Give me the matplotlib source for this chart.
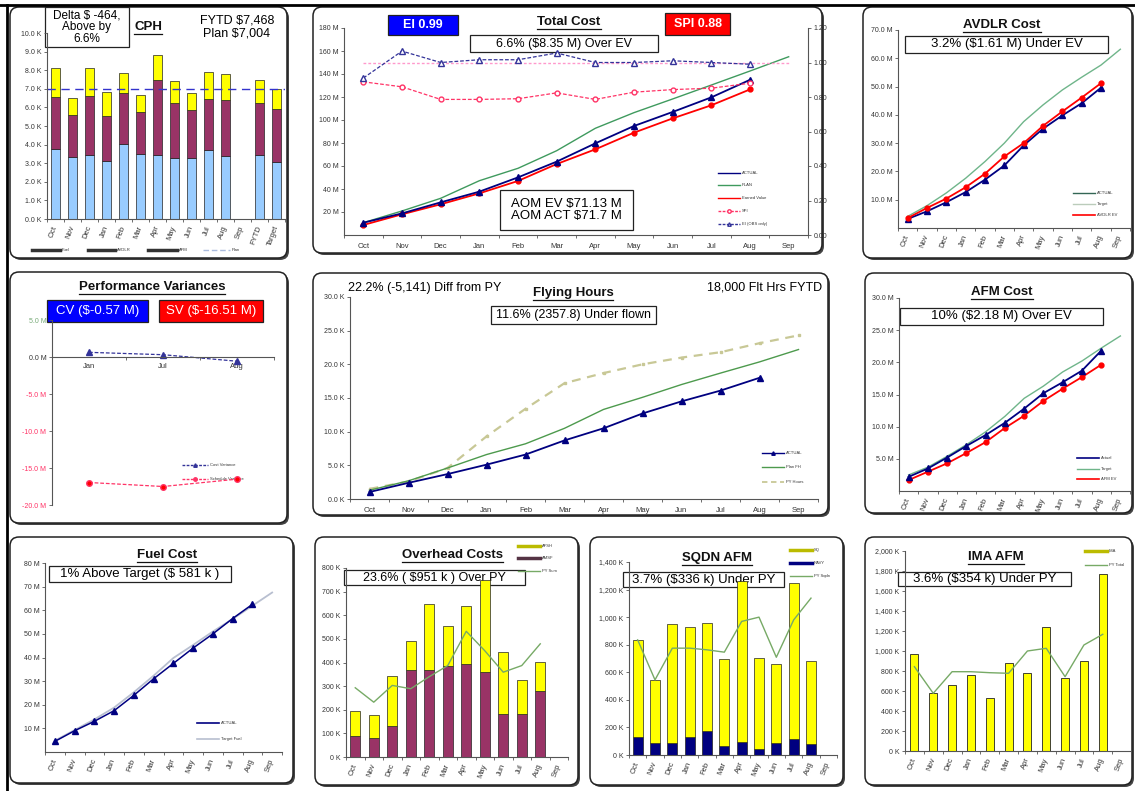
import numpy as np
import matplotlib
matplotlib.use('Agg')
import matplotlib.pyplot as plt
from matplotlib.patches import FancyBboxPatch, Rectangle

plt.rcParams['font.family'] = ['Liberation Sans', 'DejaVu Sans']

W, H = 1135, 791

MONTHS = ['Oct', 'Nov', 'Dec', 'Jan', 'Feb', 'Mar', 'Apr', 'May', 'Jun', 'Jul', 'Aug', 'Sep']

# CPH ($K per flight hour), stacked by cost element
cph_cats = MONTHS + ['FYTD', 'Target']
cph_fuel = [3.78, 3.35, 3.46, 3.14, 4.03, 3.51, 3.44, 3.28, 3.26, 3.69, 3.37, 0, 3.46, 3.05]
cph_avdlr = [2.76, 2.23, 3.14, 2.38, 2.74, 2.24, 4.06, 2.96, 2.59, 2.76, 3.01, 0, 2.79, 2.88]
cph_afm = [1.58, 0.90, 1.52, 1.30, 1.10, 0.90, 1.32, 1.19, 0.95, 1.48, 1.44, 0, 1.218, 1.074]
cph_plan = 7.004

# Total cost ($M cumulative) and indices
tc_actual = [10.7, 18.8, 28.4, 37.7, 50.1, 63.8, 79.7, 94.8, 107.0, 119.7, 134.95]
tc_plan = [10.7, 20.9, 31.9, 47.2, 58.0, 73.3, 92.8, 106.4, 118.3, 130.4, 142.6, 155.0]
tc_ev = [8.7, 18.0, 26.7, 36.2, 47.0, 61.7, 74.5, 89.0, 101.4, 112.8, 126.6]
tc_spi = [0.888, 0.859, 0.786, 0.786, 0.79, 0.824, 0.786, 0.828, 0.843, 0.851, 0.88]
tc_ei = [0.91, 1.066, 1.0, 1.016, 1.016, 1.055, 1.0, 1.0, 1.01, 1.0, 0.99]

# AVDLR ($M cumulative)
av_actual = [3.2, 5.9, 9.1, 12.7, 17.1, 22.1, 29.2, 35.1, 39.8, 44.1, 49.6]
av_target = [4.1, 7.9, 12.4, 17.6, 23.5, 30.0, 37.6, 43.5, 48.8, 53.3, 57.6, 63.2]
av_ev = [3.5, 7.1, 10.4, 14.4, 19.2, 25.3, 30.0, 36.1, 41.2, 46.1, 51.2]

# Performance variances ($M)
pv_months = ['Jan', 'Jul', 'Aug']
pv_cv = [0.63, 0.31, -0.57]
pv_sv = [-16.96, -17.5, -16.51]

# Flying hours (K, cumulative)
fh_actual = [1.04, 2.4, 3.7, 5.1, 6.6, 8.7, 10.5, 12.7, 14.5, 16.1, 18.0]
fh_plan = [1.3, 2.7, 4.6, 6.6, 8.2, 10.5, 13.3, 15.1, 17.0, 18.7, 20.36, 22.2]
fh_py = [1.5, 2.6, 4.6, 9.3, 13.4, 17.2, 18.7, 20.0, 21.0, 21.8, 23.14, 24.3]

# AFM ($M cumulative)
afm_actual = [2.2, 3.5, 5.2, 7.0, 8.7, 10.6, 12.8, 15.2, 16.9, 18.7, 21.8]
afm_target = [2.5, 3.7, 5.4, 7.2, 9.2, 11.6, 14.4, 16.3, 18.5, 20.2, 22.2, 24.1]
afm_ev = [1.7, 3.0, 4.3, 5.9, 7.6, 9.8, 11.7, 14.0, 15.9, 17.7, 19.62]

# Fuel ($M cumulative)
fuel_actual = [4.5, 9.0, 13.0, 17.5, 24.0, 31.0, 37.5, 44.0, 50.0, 56.5, 62.5]
fuel_target = [4.8, 9.3, 13.8, 18.8, 25.3, 32.3, 39.8, 45.3, 51.0, 56.3, 61.9, 67.5]

# Overhead ($K monthly)
oh_amsf = [87, 79, 131, 370, 370, 386, 393, 361, 180, 180, 280]
oh_afsh = [109, 100, 210, 119, 278, 169, 246, 388, 265, 148, 123]
oh_py = [293, 232, 303, 289, 340, 387, 532, 450, 359, 387, 479]

# SQDN AFM ($K monthly)
sq_navy = [133, 85, 85, 133, 177, 65, 97, 44, 85, 116, 80]
sq_sq = [702, 460, 864, 799, 784, 630, 1162, 658, 576, 1131, 605]
sq_py = [835, 545, 775, 775, 763, 746, 969, 1000, 709, 980, 1138]

# IMA AFM ($K monthly)
ima = [970, 583, 660, 760, 527, 883, 777, 1237, 733, 900, 1770]
ima_py = [843, 577, 793, 793, 783, 777, 1000, 1027, 743, 1060, 1167]

NAVY = '#000080'
RED = '#ff0000'
GREEN = '#3f9a5e'
LTGREEN = '#6fb58a'
YELLOW = '#ffff00'
MAROON = '#993366'
SKY = '#99ccff'
TEXT = '#333333'
PINK = '#ff3366'

fig = plt.figure(figsize=(W / 100, H / 100), dpi=100)
fig.patch.set_facecolor('white')
bg = fig.add_axes([0, 0, 1, 1], zorder=0)
bg.set_xlim(0, W)
bg.set_ylim(H, 0)
bg.axis('off')
renderer = fig.canvas.get_renderer()

# outer frame lines
bg.plot([0, W], [5, 5], color='black', lw=2)
bg.plot([7, 7], [5, H], color='black', lw=2)


def panel(x0, y0, x1, y1):
    bg.add_patch(FancyBboxPatch((x0 + 2, y0 + 2), x1 - x0, y1 - y0,
                                boxstyle='round,pad=0,rounding_size=9', fc='#444444', ec='none'))
    bg.add_patch(FancyBboxPatch((x0, y0), x1 - x0, y1 - y0,
                                boxstyle='round,pad=0,rounding_size=9', fc='white', ec='#222222', lw=1.1))


def chart(l, t, r, b):
    ax = fig.add_axes([l / W, 1 - b / H, (r - l) / W, (b - t) / H], zorder=1)
    ax.patch.set_alpha(0)
    for s in ('top', 'right'):
        ax.spines[s].set_visible(False)
    for s in ('left', 'bottom'):
        ax.spines[s].set_color('#555555')
        ax.spines[s].set_linewidth(0.8)
    ax.tick_params(labelsize=5, labelcolor=TEXT, color='#555555', length=2.5, width=0.6, pad=1.5)
    return ax


def months_x(ax, labels, rotate=True):
    n = len(labels)
    ax.set_xlim(-0.5, n - 0.5)
    ax.set_xticks(np.arange(n))
    if rotate:
        ax.set_xticklabels(labels, rotation=70, ha='right', va='center', rotation_mode='anchor')
        ax.tick_params(axis='x', which='major', length=0, pad=5, labelsize=5.5)
    else:
        ax.set_xticklabels(labels)
        ax.tick_params(axis='x', which='major', length=0, pad=6, labelsize=5.5)
    ax.set_xticks(np.arange(n + 1) - 0.5, minor=True)
    ax.tick_params(axis='x', which='minor', length=2.5, width=0.6, color='#555555')


def yticks(ax, values, fmt):
    ax.set_yticks(values)
    ax.set_yticklabels([fmt(v) for v in values])


def title(x, y, s, size=9.5):
    t = bg.text(x, y, s, ha='center', va='center', fontsize=size, fontweight='bold', color='#111111')
    bb = t.get_window_extent(renderer=renderer)
    bg.plot([bb.x0, bb.x1], [H - bb.y0 + 0.5] * 2, color='#111111', lw=0.9)


def box(x0, y0, x1, y1, s, size=9, fc='white', tc='black', bold=False, spacing=1.05):
    bg.add_patch(Rectangle((x0, y0), x1 - x0, y1 - y0, fc=fc, ec='#222222', lw=0.9))
    bg.text((x0 + x1) / 2, (y0 + y1) / 2, s, ha='center', va='center', fontsize=size, color=tc,
            fontweight='bold' if bold else 'normal', linespacing=spacing)


def key(x, y, s, color, lw=1.0, ls='-', marker=None, length=22, mfc=None):
    bg.plot([x, x + length], [y, y], color=color, lw=lw, ls=ls)
    if marker:
        bg.plot([x + length / 2], [y], marker=marker, color=color, ms=2.5,
                mfc=mfc if mfc else color, mec=color)
    bg.text(x + length + 2, y, s, fontsize=3, va='center', color=TEXT)


xm = np.arange(12)
xa = np.arange(11)

# ---------------- CPH ----------------
panel(10, 7, 287, 258)
ax = chart(47, 33, 285, 219)
xc = np.arange(len(cph_cats))
bot2 = np.add(cph_fuel, cph_avdlr)
ax.bar(xc, cph_fuel, 0.55, color=SKY, ec='#222222', lw=0.5)
ax.bar(xc, cph_avdlr, 0.55, bottom=cph_fuel, color=MAROON, ec='#222222', lw=0.5)
ax.bar(xc, cph_afm, 0.55, bottom=bot2, color=YELLOW, ec='#222222', lw=0.5)
ax.axhline(cph_plan, color='#3333cc', ls=(0, (6, 4)), lw=1)
ax.set_ylim(0, 10)
yticks(ax, np.arange(0, 11, 1), lambda v: f'{v:.1f} K')
months_x(ax, cph_cats)
box(45, 7, 129, 47, 'Delta $ -464,\nAbove by\n6.6%', size=8.5, spacing=0.95)
title(148, 27, 'CPH')
bg.text(237, 27, 'FYTD $7,468\nPlan $7,004', ha='center', va='center', fontsize=9, linespacing=1.1)
key(32, 250, 'Fuel', '#333333', lw=2.5, length=28)
key(88, 250, 'AVDLR', '#333333', lw=2.5, length=27)
key(148, 250, 'AFM', '#333333', lw=2.5, length=29)
key(203, 250, 'Plan', '#aabbdd', lw=1, ls=(0, (4, 2)), length=27)

# ---------------- Total Cost ----------------
panel(313, 7, 822, 253)
ax = chart(344, 28, 808, 235)
ax.plot(xm, tc_plan, color=GREEN, lw=1)
ax.plot(xa, tc_ev, color=RED, lw=1.3, marker='o', ms=3.5)
ax.plot(xa, tc_actual, color=NAVY, lw=1.3, marker='^', ms=4)
ax.set_ylim(0, 180)
yticks(ax, np.arange(20, 181, 20), lambda v: f'{v} M')
months_x(ax, MONTHS, rotate=False)
ax2 = ax.twinx()
ax2.set_zorder(2)
ax2.patch.set_alpha(0)
for s in ('top', 'left', 'bottom'):
    ax2.spines[s].set_visible(False)
ax2.spines['right'].set_color('#555555')
ax2.spines['right'].set_linewidth(0.8)
ax2.tick_params(labelsize=5, labelcolor=TEXT, color='#555555', length=2.5, width=0.6, pad=1.5)
ax2.set_ylim(0, 1.2)
yticks(ax2, np.arange(0, 1.21, 0.2), lambda v: f'{v:.2f}')
ax2.plot([0, 11], [1, 1], color='#ff99cc', ls=(0, (2, 1.5)), lw=1)
ax2.plot(xa, tc_spi, color=PINK, ls=(0, (3, 1.5)), lw=0.9, marker='o', ms=3.5, mfc='white', mec=PINK)
ax2.plot(xa, tc_ei, color='#333399', ls=(0, (3, 1.5)), lw=0.9, marker='^', ms=4, mfc='white', mec='#333399')
box(388, 15, 458, 35, 'EI 0.99', size=9, fc='#0000ff', tc='white', bold=True)
box(665, 13, 730, 35, 'SPI 0.88', size=9, fc='#ff0000', tc='white', bold=True)
title(569, 22, 'Total Cost')
box(470, 35, 658, 52, '6.6% ($8.35 M) Over EV', size=9)
box(500, 190, 633, 230, 'AOM EV $71.13 M\nAOM ACT $71.7 M', size=9.5)
key(718, 173, 'ACTUAL', NAVY, lw=1)
key(718, 185, 'PLAN', GREEN, lw=1)
key(718, 198, 'Earned Value', RED, lw=1)
key(718, 211, 'SPI', PINK, ls=(0, (2, 1)), marker='o', mfc='white')
key(718, 224, 'EI (OBS only)', '#333399', ls=(0, (2, 1)), marker='^', mfc='white')

# ---------------- AVDLR ----------------
panel(863, 7, 1132, 258)
ax = chart(898, 30, 1130, 228)
ax.plot(xm, av_target, color=LTGREEN, lw=1)
ax.plot(xa, av_actual, color=NAVY, lw=1.3, marker='^', ms=4)
ax.plot(xa, av_ev, color=RED, lw=1.3, marker='o', ms=3.5)
ax.set_ylim(0, 70)
yticks(ax, np.arange(10, 71, 10), lambda v: f'{v:.1f} M')
months_x(ax, MONTHS)
title(1002, 25, 'AVDLR Cost')
box(905, 36, 1108, 53, '3.2% ($1.61 M) Under EV', size=9.5)
key(1073, 193, 'ACTUAL', '#336655', lw=1)
key(1073, 204, 'Target', '#bbccbb', lw=1)
key(1073, 215, 'AVDLR EV', RED, lw=1.2)

# ---------------- Performance Variances ----------------
panel(10, 272, 287, 523)
ax = chart(52, 320, 274, 505)
x3 = np.arange(len(pv_months))
ax.spines['bottom'].set_position(('data', 0))
ax.plot(x3, pv_cv, color='#333399', ls=(0, (3, 1.5)), lw=0.9, marker='^', ms=4)
ax.plot(x3, pv_sv, color=PINK, ls=(0, (3, 1.5)), lw=0.9, marker='o', ms=4, mfc=RED, mec=PINK)
ax.set_ylim(-20, 5)
yticks(ax, np.arange(-20, 6, 5), lambda v: f'{v:.1f} M')
for v, lab in zip(np.arange(-20, 6, 5), ax.get_yticklabels()):
    lab.set_color('#ff3366' if v < 0 else ('#77aa77' if v > 0 else TEXT))
months_x(ax, pv_months, rotate=False)
ax.tick_params(axis='x', which='major', pad=4)
title(152, 287, 'Performance Variances')
box(47, 300, 148, 322, 'CV ($-0.57 M)', size=9.5, fc='#0000ff', tc='white')
box(159, 300, 263, 322, 'SV ($-16.51 M)', size=9.5, fc='#ff0000', tc='white')
key(182, 465, 'Cost Variance', '#333399', ls=(0, (2, 1)), marker='^', length=26)
key(182, 479, 'Schedule Variance', PINK, ls=(0, (2, 1)), marker='o', length=26)

# ---------------- Flying Hours ----------------
panel(313, 273, 828, 515)
ax = chart(350, 297, 818, 499)
ax.plot(xm, fh_py, color='#c8c896', lw=1.6, ls=(0, (4, 3)), marker='s', ms=1.8)
ax.plot(xm, fh_plan, color='#4d9a4d', lw=1)
ax.plot(xa, fh_actual, color=NAVY, lw=1.3, marker='^', ms=4)
ax.set_ylim(0, 30)
yticks(ax, np.arange(0, 31, 5), lambda v: f'{v:.1f} K')
months_x(ax, MONTHS, rotate=False)
bg.text(348, 288, '22.2% (-5,141) Diff from PY', ha='left', va='center', fontsize=9)
bg.text(822, 288, '18,000 Flt Hrs FYTD', ha='right', va='center', fontsize=9)
title(573, 293, 'Flying Hours')
box(491, 306, 656, 324, '11.6% (2357.8) Under flown', size=9)
key(762, 453, 'ACTUAL', NAVY, marker='^')
key(762, 467, 'Plan FH', '#4d9a4d')
key(762, 482, 'PY Hours', '#c8c896', ls=(0, (3, 2)), lw=1.3)

# ---------------- AFM Cost ----------------
panel(865, 273, 1132, 513)
ax = chart(899, 298, 1130, 491)
ax.plot(xm, afm_target, color=LTGREEN, lw=1)
ax.plot(xa, afm_ev, color=RED, lw=1.3, marker='o', ms=3.5)
ax.plot(xa, afm_actual, color=NAVY, lw=1.3, marker='^', ms=4)
ax.set_ylim(0, 30)
yticks(ax, np.arange(5, 31, 5), lambda v: f'{v:.1f} M')
months_x(ax, MONTHS)
title(1002, 292, 'AFM Cost')
box(900, 308, 1103, 325, '10% ($2.18 M) Over EV', size=9.5)
key(1077, 458, 'Actual', NAVY, lw=1.2)
key(1077, 469, 'Target', LTGREEN)
key(1077, 479, 'AFM EV', RED, lw=1.2)

# ---------------- Fuel Cost ----------------
panel(10, 537, 293, 783)
ax = chart(45, 563, 282, 752)
ax.plot(xm, fuel_target, color='#b8bfd0', lw=1.3)
ax.plot(xa, fuel_actual, color=NAVY, lw=1.1, marker='^', ms=4)
ax.set_ylim(0, 80)
yticks(ax, np.arange(10, 81, 10), lambda v: f'{v} M')
months_x(ax, MONTHS)
title(167, 555, 'Fuel Cost')
box(49, 566, 231, 582, '1% Above Target ($ 581 k )', size=9.5)
key(197, 723, 'ACTUAL', NAVY, lw=1.2)
key(197, 739, 'Target Fuel', '#b8bfd0', lw=1.2)

# ---------------- Overhead Costs ----------------
panel(315, 537, 578, 785)
ax = chart(346, 568, 568, 757)
ax.bar(xa, oh_amsf, 0.55, color=MAROON, ec='#222222', lw=0.5)
ax.bar(xa, oh_afsh, 0.55, bottom=oh_amsf, color=YELLOW, ec='#222222', lw=0.5)
ax.plot(xa, oh_py, color='#77aa66', lw=1)
ax.set_ylim(0, 800)
yticks(ax, np.arange(0, 801, 100), lambda v: f'{v} K')
months_x(ax, MONTHS)
title(452, 555, 'Overhead Costs')
box(344, 570, 525, 585, '23.6% ( $951 k ) Over PY', size=9)
key(518, 546, 'AFSH', '#bbbb00', lw=2.5)
key(518, 558, 'AMSF', '#553344', lw=2.5)
key(518, 571, 'PY Sum', '#77aa66')

# ---------------- SQDN AFM ----------------
panel(590, 537, 843, 785)
ax = chart(629, 562, 837, 755)
ax.bar(xa, sq_navy, 0.58, color=NAVY, ec='#222222', lw=0.5)
ax.bar(xa, sq_sq, 0.58, bottom=sq_navy, color=YELLOW, ec='#222222', lw=0.5)
ax.plot(xa, sq_py, color='#77aa66', lw=1)
ax.set_ylim(0, 1400)
yticks(ax, np.arange(0, 1401, 200), lambda v: f'{v:,} K')
months_x(ax, MONTHS)
title(717, 558, 'SQDN AFM')
box(623, 572, 784, 587, '3.7% ($336 k) Under PY', size=9.5)
key(790, 550, 'SQ', '#bbbb00', lw=2.5)
key(790, 563, 'NAVY', NAVY, lw=2.5)
key(790, 576, 'PY Sqdn', '#77aa66')

# ---------------- IMA AFM ----------------
panel(865, 537, 1132, 785)
ax = chart(905, 551, 1131, 751)
ax.bar(xa, ima, 0.42, color=YELLOW, ec='#222222', lw=0.6)
ax.plot(xa, ima_py, color='#77aa66', lw=1)
ax.set_ylim(0, 2000)
yticks(ax, np.arange(0, 2001, 200), lambda v: f'{v:,} K')
months_x(ax, MONTHS)
title(996, 557, 'IMA AFM')
box(898, 572, 1071, 586, '3.6% ($354 k) Under PY', size=9.5)
key(1085, 551, 'IMA', '#bbbb00', lw=2.5)
key(1085, 565, 'PY Total', '#77aa66')

fig.savefig('out.png', dpi=100)
